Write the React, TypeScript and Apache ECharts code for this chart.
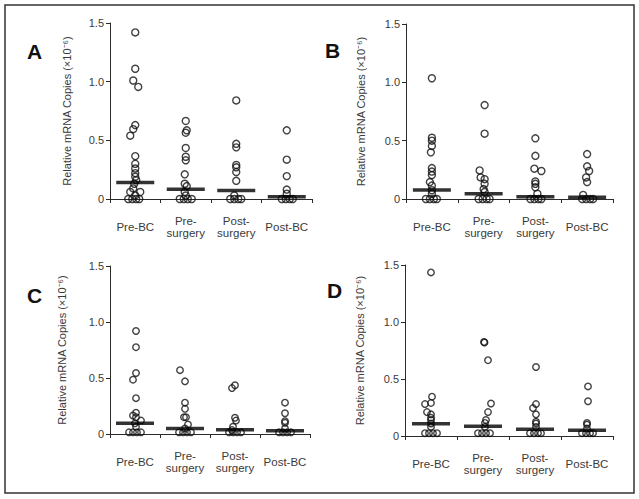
import React, { useEffect, useRef } from "react";
import * as echarts from "echarts";

// ---------- data ----------
const CATEGORIES = ["Pre-BC", "Pre-\nsurgery", "Post-\nsurgery", "Post-BC"];
const Y_TICKS = [0, 0.5, 1.0, 1.5];
const Y_NAME = "Relative mRNA Copies (×10\u207B\u2076)";

// Panel A
const A_VALUES = [
  [1.42, 1.11, 1.01, 0.955, 0.63, 0.595, 0.54, 0.365, 0.3, 0.26, 0.22, 0.19, 0.16, 0.13, 0.09, 0.06, 0.06, 0.03, 0, 0, 0, 0],
  [0.665, 0.585, 0.565, 0.435, 0.36, 0.33, 0.21, 0.13, 0.11, 0.06, 0.03, 0, 0, 0, 0],
  [0.84, 0.47, 0.44, 0.29, 0.27, 0.23, 0.155, 0.03, 0, 0, 0, 0],
  [0.585, 0.335, 0.195, 0.08, 0.045, 0, 0, 0, 0],
];
const A_JITTER = [
  [0, 0, -2, 3, 0, -2, -5, 0, 0, 0, 0, 0, 1, -1, -2, -5, 5, 0, -7, -3, 1, 4],
  [0, 1, 0, 0, 0, 0, -1, -1, 1, -1, 0, -6, -2, 2, 6],
  [0, 0, 0, 0, 0, 0, 0, -2, -6, -2, 2, 5],
  [0, 0, 0, 0, 0, -5, -1, 3, 6],
];
const A_MEANS = [0.14, 0.083, 0.072, 0.02];

// Panel B
const B_VALUES = [
  [1.035, 0.525, 0.5, 0.455, 0.4, 0.265, 0.235, 0.205, 0.145, 0.115, 0.075, 0.045, 0, 0, 0, 0],
  [0.805, 0.56, 0.245, 0.185, 0.17, 0.13, 0.085, 0.06, 0, 0, 0, 0],
  [0.52, 0.37, 0.26, 0.24, 0.15, 0.13, 0.1, 0.045, 0, 0, 0, 0],
  [0.385, 0.28, 0.24, 0.185, 0.145, 0.035, 0, 0, 0, 0],
];
const B_JITTER = [
  [0, 0, 0, 0, -1, 0, 0, 0, -2, 0, 0, 0, -6, -2, 2, 5],
  [1, 1, -4, -3, 1, 1, 0, 1, -5, -1, 3, 6],
  [0, 0, -1, 6, 0, 0, 0, 2, -5, -1, 3, 6],
  [0, 0, 2, -1, 0, -4, -5, -1, 3, 6],
];
const B_MEANS = [0.078, 0.045, 0.02, 0.015];

// Panel C
const C_VALUES = [
  [0.92, 0.775, 0.545, 0.485, 0.32, 0.19, 0.165, 0.15, 0.12, 0.095, 0.065, 0.015, 0.015, 0.015, 0.015],
  [0.57, 0.47, 0.28, 0.225, 0.15, 0.15, 0.085, 0.05, 0.015, 0.015, 0.015, 0.015],
  [0.435, 0.41, 0.145, 0.12, 0.065, 0.035, 0.015, 0.015, 0.015, 0.015],
  [0.28, 0.185, 0.115, 0.1, 0.05, 0.015, 0.015, 0.015, 0.015],
];
const C_JITTER = [
  [1, 1, 1, -2, 1, 1, -2, 1, 6, 0, 1, -6, -2, 2, 6],
  [-5, 0, 0, 0, -1, 1, 3, 0, -6, -2, 2, 6],
  [0, -3, 0, 1, -2, -3, -6, -2, 2, 6],
  [0, 0, 0, 0, 0, -6, -2, 2, 6],
];
const C_MEANS = [0.095, 0.05, 0.037, 0.03];

// Panel D
const D_VALUES = [
  [1.435, 0.345, 0.29, 0.28, 0.21, 0.19, 0.16, 0.14, 0.11, 0.08, 0.025, 0.025, 0.025, 0.025],
  [0.825, 0.82, 0.665, 0.285, 0.21, 0.14, 0.115, 0.08, 0.025, 0.025, 0.025, 0.025],
  [0.605, 0.28, 0.245, 0.19, 0.125, 0.11, 0.08, 0.025, 0.025, 0.025, 0.025],
  [0.435, 0.305, 0.115, 0.1, 0.065, 0.025, 0.025, 0.025, 0.025],
];
const D_JITTER = [
  [0, 1, 0, -6, -4, 0, 0, 0, 0, 0, -6, -2, 2, 6],
  [1, 1.5, 5, 8, 5, 3, 2, 2, -5, -1, 3, 7],
  [1, 1, -2, 1, 1, 1, 1, -5, -1, 3, 6],
  [1, 1, 0, 0, 0, -5, -1, 3, 6],
];
const D_MEANS = [0.108, 0.085, 0.06, 0.05];

// ---------- layout ----------
const FONT = "'Liberation Sans', Arial, Helvetica, sans-serif";
const PANELS = [
  { letter: "A", values: A_VALUES, jitter: A_JITTER, means: A_MEANS, grid: { left: 110, top: 23, width: 202, height: 176 }, nameGap: 38, lx: 27, ly: 51, sym: 7 },
  { letter: "B", values: B_VALUES, jitter: B_JITTER, means: B_MEANS, grid: { left: 406, top: 24, width: 207, height: 175 }, nameGap: 40, lx: 325, ly: 50, sym: 7 },
  { letter: "C", values: C_VALUES, jitter: C_JITTER, means: C_MEANS, grid: { left: 110, top: 266, width: 200, height: 168 }, nameGap: 43, lx: 27, ly: 295, sym: 6.5 },
  { letter: "D", values: D_VALUES, jitter: D_JITTER, means: D_MEANS, grid: { left: 405, top: 265, width: 208, height: 171 }, nameGap: 40, lx: 327, ly: 290, sym: 6.5 },
];

const AXIS_COLOR = "#2a2a2a";
const TEXT_COLOR = "#3a3a3a";

export default function App() {
  const ref = useRef<HTMLDivElement>(null);

  useEffect(() => {
    document.body.style.margin = "0";
    if (!ref.current) return;
    const chart = echarts.init(ref.current, undefined, { renderer: "svg" });

    const grids: any[] = [];
    const xAxes: any[] = [];
    const yAxes: any[] = [];
    const series: any[] = [];
    const graphics: any[] = [
      {
        type: "rect",
        shape: { x: 5, y: 5, width: 629, height: 488 },
        style: { fill: "none", stroke: "#333", lineWidth: 1.5 },
        silent: true,
      },
    ];

    PANELS.forEach((p, i) => {
      grids.push({ ...p.grid, containLabel: false });
      const band = p.grid.width / CATEGORIES.length;
      xAxes.push({
        type: "category",
        gridIndex: i,
        data: CATEGORIES,
        boundaryGap: true,
        axisLine: { lineStyle: { color: AXIS_COLOR, width: 1 } },
        axisTick: { show: true, length: 4, lineStyle: { color: AXIS_COLOR } },
        axisLabel: {
          color: TEXT_COLOR,
          fontSize: 11.5,
          fontFamily: FONT,
          lineHeight: 12.5,
          margin: 28,
          verticalAlign: "middle",
          interval: 0,
        },
        splitLine: { show: false },
      });
      xAxes.push({
        type: "value",
        gridIndex: i,
        min: 0.5,
        max: 4.5,
        show: false,
      });
      yAxes.push({
        type: "value",
        gridIndex: i,
        min: Y_TICKS[0],
        max: Y_TICKS[Y_TICKS.length - 1],
        interval: 0.5,
        name: Y_NAME,
        nameLocation: "middle",
        nameRotate: 90,
        nameGap: p.nameGap,
        nameTextStyle: { color: TEXT_COLOR, fontSize: 11, fontFamily: FONT },
        axisLine: { show: true, lineStyle: { color: AXIS_COLOR, width: 1 } },
        axisTick: { show: true, length: 4, lineStyle: { color: AXIS_COLOR } },
        axisLabel: {
          color: TEXT_COLOR,
          fontSize: 11,
          fontFamily: FONT,
          margin: 6,
          formatter: (v: number) => (v === 0 ? "0" : v.toFixed(1)),
        },
        splitLine: { show: false },
      });

      const pts: number[][] = [];
      p.values.forEach((arr, g) => {
        arr.forEach((v, k) => {
          pts.push([g + 1 + p.jitter[g][k] / band, v]);
        });
      });
      series.push({
        type: "scatter",
        xAxisIndex: 2 * i + 1,
        yAxisIndex: i,
        data: pts,
        symbol: "circle",
        symbolSize: p.sym,
        clip: false,
        itemStyle: { color: "rgba(0,0,0,0)", borderColor: "#111", borderWidth: 1.4 },
        z: 2,
      });
      series.push({
        type: "scatter",
        xAxisIndex: 2 * i + 1,
        yAxisIndex: i,
        data: p.means.map((m, g) => [g + 1, m]),
        symbol: "rect",
        symbolSize: [38, 3.5],
        clip: false,
        itemStyle: { color: "#000" },
        z: 3,
      });

      graphics.push({
        type: "text",
        x: p.lx,
        y: p.ly,
        style: {
          text: p.letter,
          font: `bold 21px ${FONT}`,
          fill: "#111",
          textVerticalAlign: "middle",
        },
        silent: true,
      });
    });

    chart.setOption({
      animation: false,
      backgroundColor: "#fff",
      grid: grids,
      xAxis: xAxes,
      yAxis: yAxes,
      series,
      graphic: graphics,
    });

    return () => chart.dispose();
  }, []);

  return <div ref={ref} style={{ width: 639, height: 499 }} />;
}
